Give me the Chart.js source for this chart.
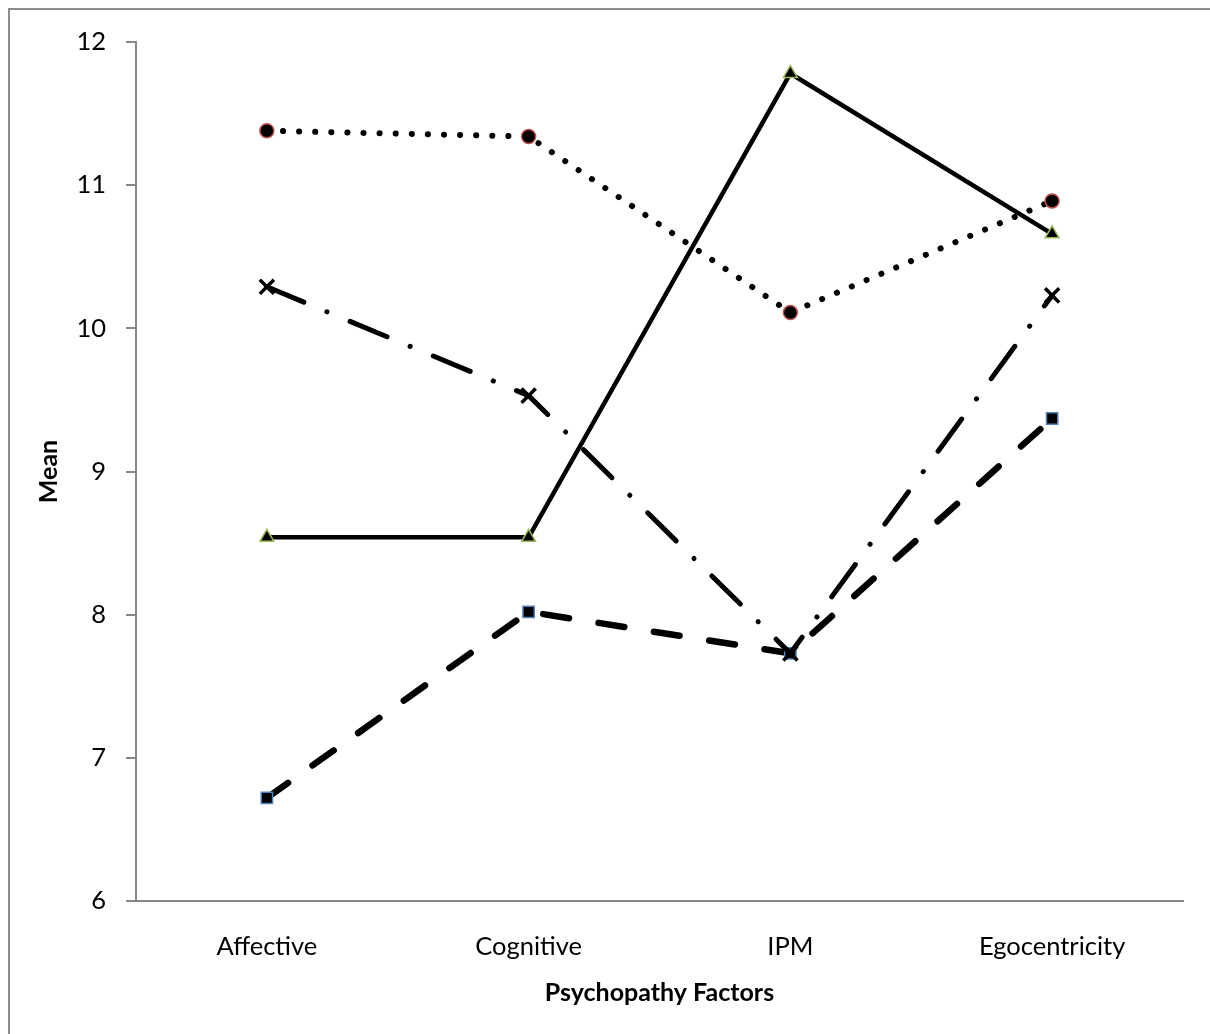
<!DOCTYPE html>
<html>
<head>
<meta charset="utf-8">
<script src="https://cdn.jsdelivr.net/npm/chart.js@4/dist/chart.umd.min.js"></script>
<style>
  body { margin: 0; background: #fff; }
  #frame { position: absolute; left: 8px; top: 8px; width: 1230px; height: 1060px; border: 2px solid #8c8c8c; }
  #wrap { position: absolute; left: 0; top: 0; width: 1210px; height: 1034px; }
</style>
</head>
<body>
<div id="frame"></div>
<div id="wrap"><canvas id="myChart"></canvas></div>
<script>
const factors = ['Affective', 'Cognitive', 'IPM', 'Egocentricity'];
const dottedCircle = [11.38, 11.34, 10.11, 10.89];
const dashDotCross = [10.29, 9.53, 7.73, 10.23];
const solidTriangle = [8.54, 8.54, 11.78, 10.66];
const dashedSquare = [6.72, 8.02, 7.73, 9.37];
const yTicks = [6, 7, 8, 9, 10, 11, 12];

const tickFont = { family: 'Lato, "Open Sans", sans-serif', size: 25.5 };
const titleFont = { family: 'Lato, "Open Sans", sans-serif', size: 25, weight: 'bold' };
const axisGray = '#868686';

const ctx = document.getElementById('myChart').getContext('2d');
const myChart = new Chart(ctx, {
    type: 'line',
    data: {
        labels: factors,
        datasets: [
            {
                data: dottedCircle,
                borderColor: '#000',
                borderWidth: 6,
                borderDash: [0.1, 16],
                borderCapStyle: 'round',
                pointStyle: 'circle',
                pointRadius: 7,
                pointBackgroundColor: '#000',
                pointBorderColor: '#c0504d',
                pointBorderWidth: 1.5
            },
            {
                data: dashDotCross,
                borderColor: '#000',
                borderWidth: 5,
                borderDash: [40, 25, 0.1, 25],
                borderCapStyle: 'round',
                pointStyle: 'crossRot',
                pointRadius: 10,
                pointBorderColor: '#000',
                pointBorderWidth: 3.5
            },
            {
                data: solidTriangle,
                borderColor: '#000',
                borderWidth: 4.5,
                pointStyle: 'triangle',
                pointRadius: 8,
                pointBackgroundColor: '#000',
                pointBorderColor: '#9bbb59',
                pointBorderWidth: 1.5
            },
            {
                data: dashedSquare,
                borderColor: '#000',
                borderWidth: 6.5,
                borderDash: [26, 30],
                borderCapStyle: 'round',
                pointStyle: 'rect',
                pointRadius: 8,
                pointBackgroundColor: '#000',
                pointBorderColor: '#4f81bd',
                pointBorderWidth: 1.5
            }
        ]
    },
    options: {
        responsive: true,
        maintainAspectRatio: false,
        animation: false,
        layout: { padding: { left: 34, top: 42, right: 27, bottom: 26 } },
        plugins: {
            legend: { display: false },
            tooltip: { enabled: false }
        },
        scales: {
            x: {
                offset: true,
                grid: { display: false },
                border: { display: true, color: axisGray, width: 2 },
                ticks: { color: '#000', font: tickFont, padding: 22, maxRotation: 0 },
                title: { display: true, text: 'Psychopathy Factors', color: '#000', font: titleFont, padding: 0 },
                afterFit: (scale) => { scale.height = 107; }
            },
            y: {
                min: 6,
                max: 12,
                afterBuildTicks: (scale) => { scale.ticks = yTicks.map(v => ({ value: v })); },
                grid: { drawOnChartArea: false, drawTicks: true, tickLength: 10, color: axisGray, lineWidth: 2 },
                border: { display: true, color: axisGray, width: 2 },
                ticks: { color: '#000', font: tickFont, padding: 20 },
                title: { display: true, text: 'Mean', color: '#000', font: titleFont, padding: 0 },
                afterFit: (scale) => { scale.width = 102; }
            }
        }
    }
});
</script>
</body>
</html>
